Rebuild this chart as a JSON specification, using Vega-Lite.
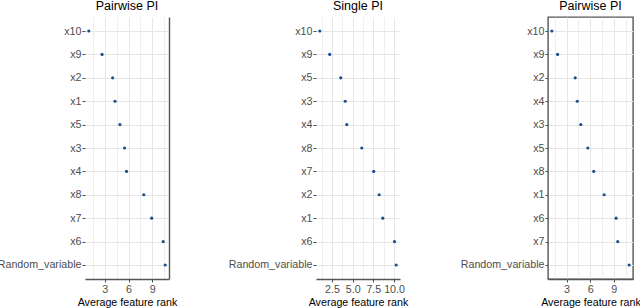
{
  "$schema": "https://vega.github.io/schema/vega-lite/v6.json",
  "padding": {"left": -3, "top": -2, "right": 0, "bottom": 0},
  "background": "white",
  "config": {
    "font": "Liberation Sans",
    "view": {"stroke": null},
    "title": {"fontSize": 12.5, "fontWeight": "normal", "color": "#000000", "font": "Liberation Sans", "offset": 5, "anchor": "middle"},
    "axis": {
      "labelFont": "Liberation Sans", "labelFontSize": 10.7, "labelColor": "#4d4d4d",
      "titleFont": "Liberation Sans", "titleFontSize": 10.7, "titleFontWeight": "normal", "titleColor": "#000000",
      "tickColor": "#4d4d4d", "tickSize": 3, "gridColor": "#e6e6e6", "gridWidth": 1, "domainColor": "#555555", "domainWidth": 1.4,
      "labelFlush": false, "labelOverlap": false
    },
    "concat": {"spacing": 51}
  },
  "hconcat": [
    {
      "title": "Pairwise PI",
      "width": 84, "height": 262,
      "data": {"values": [
        {"feature": "x10", "rank": 1.0},
        {"feature": "x9", "rank": 2.67},
        {"feature": "x2", "rank": 4.0},
        {"feature": "x1", "rank": 4.3},
        {"feature": "x5", "rank": 4.92},
        {"feature": "x3", "rank": 5.5},
        {"feature": "x4", "rank": 5.75},
        {"feature": "x8", "rank": 7.92},
        {"feature": "x7", "rank": 8.92},
        {"feature": "x6", "rank": 10.37},
        {"feature": "Random_variable", "rank": 10.62}
      ]},
      "layer": [
        {
          "mark": {"type": "point", "opacity": 0},
          "encoding": {
            "y": {"field": "feature", "type": "nominal", "sort": null, "scale": {"type": "point", "padding": 0.6},
                  "axis": {"orient": "right", "labels": false, "ticks": false, "grid": false, "domain": true, "domainColor": "#555555", "domainWidth": 1.4, "title": null}},
            "x": {"field": "rank", "type": "quantitative", "scale": {"domain": [0.52, 11.1], "nice": false, "zero": false},
                  "axis": {"orient": "top", "values": [1.5, 4.5, 7.5, 10.5], "labels": false, "ticks": false, "domain": false, "grid": true, "gridWidth": 0.7, "title": null}}
          }
        },
        {
          "mark": {"type": "point", "filled": true, "size": 10, "color": "#1a4f8b", "opacity": 1},
          "encoding": {
            "y": {"field": "feature", "type": "nominal", "sort": null,
                  "axis": {"title": null, "domain": false, "grid": true, "gridColor": "#e6e6e6", "labelPadding": 1}},
            "x": {"field": "rank", "type": "quantitative",
                  "axis": {"title": "Average feature rank", "values": [3, 6, 9], "grid": true, "orient": "bottom",
                           "domain": true, "domainColor": "#555555", "domainWidth": 1.4, "labelPadding": 2, "titlePadding": 4}}
          }
        }
      ],
      "resolve": {"axis": {"y": "independent", "x": "independent"}}
    },
    {
      "title": "Single PI",
      "width": 84, "height": 262,
      "data": {"values": [
        {"feature": "x10", "rank": 1.03},
        {"feature": "x9", "rank": 2.23},
        {"feature": "x5", "rank": 3.56},
        {"feature": "x3", "rank": 4.1},
        {"feature": "x4", "rank": 4.29},
        {"feature": "x8", "rank": 6.1},
        {"feature": "x7", "rank": 7.55},
        {"feature": "x2", "rank": 8.2},
        {"feature": "x1", "rank": 8.64},
        {"feature": "x6", "rank": 10.06},
        {"feature": "Random_variable", "rank": 10.26}
      ]},
      "layer": [
        {
          "mark": {"type": "point", "opacity": 0},
          "encoding": {
            "y": {"field": "feature", "type": "nominal", "sort": null, "scale": {"type": "point", "padding": 0.6}, "axis": null},
            "x": {"field": "rank", "type": "quantitative", "scale": {"domain": [0.57, 10.72], "nice": false, "zero": false},
                  "axis": {"orient": "top", "values": [1.25, 3.75, 6.25, 8.75], "labels": false, "ticks": false, "domain": false, "grid": true, "gridWidth": 0.7, "title": null}}
          }
        },
        {
          "mark": {"type": "point", "filled": true, "size": 10, "color": "#1a4f8b", "opacity": 1},
          "encoding": {
            "y": {"field": "feature", "type": "nominal", "sort": null,
                  "axis": {"title": null, "domain": false, "grid": true, "gridColor": "#e6e6e6", "labelPadding": 1}},
            "x": {"field": "rank", "type": "quantitative",
                  "axis": {"title": "Average feature rank", "values": [2.5, 5, 7.5, 10], "format": ".1f", "grid": true, "orient": "bottom",
                           "domain": true, "domainColor": "#555555", "domainWidth": 1.4, "labelPadding": 2, "titlePadding": 4}}
          }
        }
      ],
      "resolve": {"axis": {"y": "independent", "x": "independent"}}
    },
    {
      "title": "Pairwise PI",
      "width": 85, "height": 262,
      "view": {"stroke": "#555555", "strokeWidth": 1.4},
      "data": {"values": [
        {"feature": "x10", "rank": 1.13},
        {"feature": "x9", "rank": 1.86},
        {"feature": "x2", "rank": 4.1},
        {"feature": "x4", "rank": 4.36},
        {"feature": "x3", "rank": 4.81},
        {"feature": "x5", "rank": 5.7},
        {"feature": "x8", "rank": 6.46},
        {"feature": "x1", "rank": 7.78},
        {"feature": "x6", "rank": 9.3},
        {"feature": "x7", "rank": 9.51},
        {"feature": "Random_variable", "rank": 10.96}
      ]},
      "layer": [
        {
          "mark": {"type": "point", "opacity": 0},
          "encoding": {
            "y": {"field": "feature", "type": "nominal", "sort": null, "scale": {"type": "point", "padding": 0.6}, "axis": null},
            "x": {"field": "rank", "type": "quantitative", "scale": {"domain": [0.64, 11.45], "nice": false, "zero": false},
                  "axis": {"orient": "top", "values": [1.5, 4.5, 7.5, 10.5], "labels": false, "ticks": false, "domain": false, "grid": true, "gridWidth": 0.7, "title": null}}
          }
        },
        {
          "mark": {"type": "point", "filled": true, "size": 10, "color": "#1a4f8b", "opacity": 1},
          "encoding": {
            "y": {"field": "feature", "type": "nominal", "sort": null,
                  "axis": {"title": null, "domain": false, "grid": true, "gridColor": "#e6e6e6", "labelPadding": 1}},
            "x": {"field": "rank", "type": "quantitative",
                  "axis": {"title": "Average feature rank", "values": [3, 6, 9], "grid": true, "orient": "bottom",
                           "domain": true, "domainColor": "#555555", "domainWidth": 1.4, "labelPadding": 2, "titlePadding": 4}}
          }
        }
      ],
      "resolve": {"axis": {"y": "independent", "x": "independent"}}
    }
  ]
}
